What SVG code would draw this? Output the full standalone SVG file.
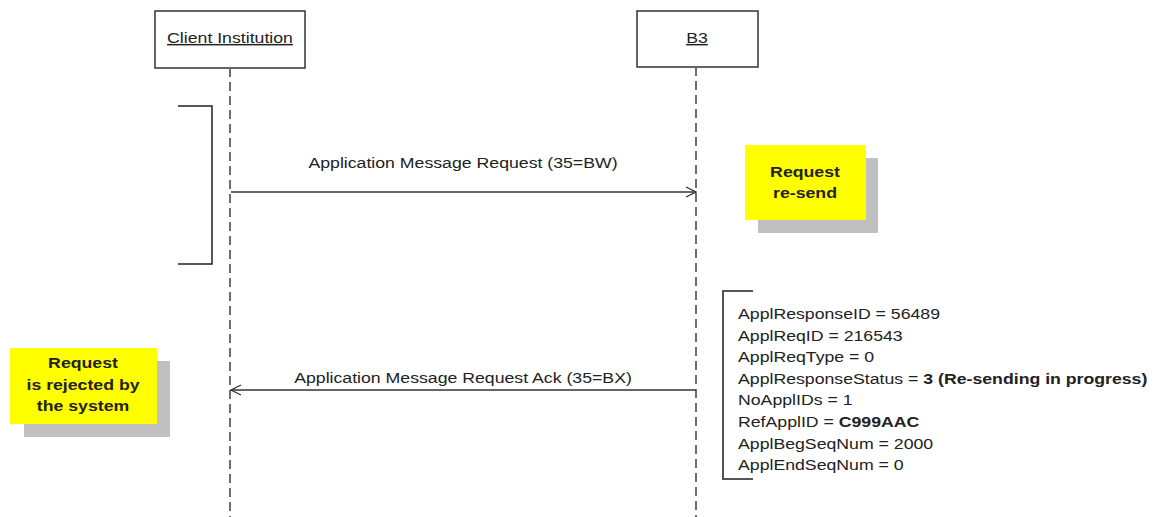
<svg xmlns="http://www.w3.org/2000/svg" width="1161" height="517" viewBox="0 0 1161 517">
<style>
.box{fill:#fff;stroke:#333;stroke-width:1.5}
.life{stroke:#6e6e6e;stroke-width:2;stroke-dasharray:9 5;fill:none}
.msg{stroke:#333;stroke-width:1.3;fill:none}
.brk{stroke:#222;stroke-width:1.5;fill:none}
.brk2{stroke:#555;stroke-width:2;fill:none}
.t{font-family:"Liberation Sans",Arial,sans-serif;font-size:15px;fill:#222}
.b{font-weight:bold}
.note{fill:#ffff00}
.shadow{fill:#c0c0c0}
</style>
<defs>
<marker id="open" viewBox="0 0 12 12" refX="11" refY="6" markerWidth="12" markerHeight="12" markerUnits="userSpaceOnUse" orient="auto">
<path d="M1,1 L11,6 L1,11" fill="none" stroke="#333" stroke-width="1.3"/>
</marker>
</defs>
<g id="client">
<rect class="box" x="155" y="11" width="150" height="57"/>
<text class="t" text-anchor="middle" text-decoration="underline" transform="translate(230,43) scale(1.18,1)">Client Institution</text>
</g>
<g id="b3">
<rect class="box" x="637" y="11" width="121" height="56"/>
<text class="t" text-anchor="middle" text-decoration="underline" transform="translate(697,43) scale(1.18,1)">B3</text>
</g>
<g id="lifelines">
<line class="life" x1="230" y1="68" x2="230" y2="517"/>
<line class="life" x1="696" y1="67" x2="696" y2="517"/>
</g>
<g id="request-bracket">
<polyline class="brk" points="178,106 212,106 212,264 178,264"/>
</g>
<g id="note-resend">
<rect class="shadow" x="758" y="158" width="120" height="75"/>
<rect class="note" x="745" y="145" width="121" height="75"/>
<text class="t b" text-anchor="middle" transform="translate(805,177) scale(1.18,1)">Request</text>
<text class="t b" text-anchor="middle" transform="translate(805,198) scale(1.18,1)">re-send</text>
</g>
<g id="note-rejected">
<rect class="shadow" x="24" y="361" width="146" height="76"/>
<rect class="note" x="10" y="348" width="147" height="76"/>
<text class="t b" text-anchor="middle" transform="translate(83,368) scale(1.18,1)">Request</text>
<text class="t b" text-anchor="middle" transform="translate(83,390) scale(1.18,1)">is rejected by</text>
<text class="t b" text-anchor="middle" transform="translate(83,411) scale(1.18,1)">the system</text>
</g>
<g id="response-block">
<polyline class="brk2" points="753,291 723,291 723,479 753,479"/>
<text class="t" transform="translate(738,319) scale(1.18,1)">
<tspan x="0" y="0">ApplResponseID = 56489</tspan>
<tspan x="0" y="21.6">ApplReqID = 216543</tspan>
<tspan x="0" y="43.2">ApplReqType = 0</tspan>
<tspan x="0" y="64.8">ApplResponseStatus = <tspan class="b">3 (Re-sending in progress)</tspan></tspan>
<tspan x="0" y="86.4">NoApplIDs = 1</tspan>
<tspan x="0" y="108">RefApplID = <tspan class="b">C999AAC</tspan></tspan>
<tspan x="0" y="129.6">ApplBegSeqNum = 2000</tspan>
<tspan x="0" y="151.2">ApplEndSeqNum = 0</tspan>
</text>
</g>
<g id="connectors">
<line class="msg" x1="231" y1="192" x2="696" y2="192" marker-end="url(#open)"/>
<text class="t" text-anchor="middle" transform="translate(463,168) scale(1.18,1)">Application Message Request (35=BW)</text>
<line class="msg" x1="696" y1="390" x2="231" y2="390" marker-end="url(#open)"/>
<text class="t" text-anchor="middle" transform="translate(463,383) scale(1.18,1)">Application Message Request Ack (35=BX)</text>
</g>
</svg>
